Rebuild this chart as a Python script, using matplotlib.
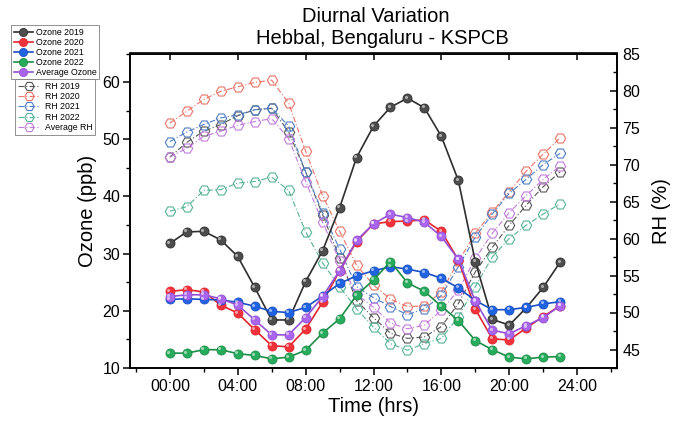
import matplotlib
matplotlib.use("Agg")
import matplotlib.pyplot as plt
import matplotlib.transforms as mtransforms
from matplotlib.ticker import MultipleLocator, FixedLocator
import numpy as np

plt.rcParams['font.family'] = ['Liberation Sans', 'DejaVu Sans']

hours = list(range(24))
xtick_pos = [0, 4, 8, 12, 16, 20, 24]
xtick_labels = ["00:00", "04:00", "08:00", "12:00", "16:00", "20:00", "24:00"]

ozone_2019 = [31.8, 33.8, 33.9, 32.4, 29.5, 24.1, 18.4, 18.4, 25.1, 30.5, 38.0, 46.8,
              52.3, 55.6, 57.2, 55.5, 50.5, 42.8, 28.6, 18.5, 17.5, 20.5, 24.1, 28.5]
ozone_2020 = [23.4, 23.7, 23.3, 21.0, 19.6, 16.7, 13.9, 13.7, 16.8, 21.5, 27.0, 32.1,
              35.2, 35.6, 35.7, 35.9, 33.9, 28.9, 20.3, 15.1, 14.9, 17.0, 19.0, 20.9]
ozone_2021 = [22.0, 22.1, 22.0, 21.9, 21.5, 20.8, 19.9, 19.7, 20.6, 22.6, 24.8, 26.1,
              27.0, 27.7, 27.3, 26.7, 25.7, 24.0, 21.8, 20.2, 20.2, 20.6, 21.2, 21.6]
ozone_2022 = [12.6, 12.6, 13.2, 13.2, 12.5, 12.2, 11.6, 11.9, 13.1, 16.1, 18.6, 22.7,
              25.4, 28.6, 24.9, 23.4, 20.8, 18.3, 14.8, 13.2, 11.9, 11.6, 11.9, 12.0]
ozone_avg = [22.5, 22.8, 22.8, 22.1, 21.0, 18.4, 15.8, 15.8, 18.8, 22.5, 27.0, 32.3,
             35.2, 36.9, 36.3, 35.5, 33.0, 29.0, 21.7, 16.6, 16.0, 17.4, 18.8, 20.9]

rh_2019 = [71.0, 73.0, 74.5, 75.4, 76.6, 77.4, 77.6, 74.4, 69.0, 63.2, 57.4, 51.6,
           49.3, 47.2, 46.5, 46.7, 48.1, 51.2, 55.5, 58.8, 61.8, 64.5, 67.0, 69.0]
rh_2020 = [75.6, 77.2, 78.8, 79.9, 80.5, 81.1, 81.4, 78.3, 71.8, 65.8, 61.0, 56.4,
           53.7, 51.8, 50.8, 50.9, 52.8, 56.9, 60.7, 63.6, 66.3, 69.1, 71.4, 73.6]
rh_2021 = [73.1, 74.4, 75.4, 76.3, 76.7, 77.4, 77.6, 75.2, 69.0, 63.5, 58.6, 53.5,
           52.0, 50.8, 49.7, 50.5, 52.3, 56.2, 60.2, 63.3, 66.1, 68.0, 70.0, 71.5]
rh_2022 = [63.7, 64.3, 66.5, 66.6, 67.5, 67.7, 68.3, 66.5, 60.9, 56.7, 53.5, 50.5,
           48.0, 45.8, 44.9, 45.8, 46.5, 49.4, 53.5, 57.5, 60.0, 61.8, 63.3, 64.7]
rh_avg = [71.0, 72.2, 73.8, 74.5, 75.3, 75.8, 76.2, 73.5, 67.7, 62.2, 57.0, 52.5,
          50.7, 48.6, 47.8, 48.3, 50.3, 53.0, 57.3, 60.7, 63.5, 65.8, 68.0, 69.8]

ozone_series = [
    ("Ozone 2019", ozone_2019, "#2e2e2e", "#4d4d4d"),
    ("Ozone 2020", ozone_2020, "#e3262e", "#f0333b"),
    ("Ozone 2021", ozone_2021, "#1a4fc4", "#1f63e0"),
    ("Ozone 2022", ozone_2022, "#1c8e48", "#27ab5c"),
    ("Average Ozone", ozone_avg, "#9550d6", "#a966ec"),
]
rh_series = [
    ("RH 2019", rh_2019, "#555555"),
    ("RH 2020", rh_2020, "#ea7468"),
    ("RH 2021", rh_2021, "#4e7ec4"),
    ("RH 2022", rh_2022, "#56b396"),
    ("Average RH", rh_avg, "#c27cdc"),
]

fig = plt.figure(figsize=(6.86, 4.25), dpi=100)
ax = fig.add_axes([130/686, 1-368/425, (617-130)/686, (368-53.5)/425])
ax2 = ax.twinx()
ax.set_zorder(ax2.get_zorder() + 1)
ax.patch.set_visible(False)

rh_handles = []
for label, vals, col in rh_series:
    h, = ax2.plot(hours, vals, linestyle=(0, (5, 2, 1, 2)), color=col, lw=0.8,
                  marker='H', ms=7.5, mfc='none', mec=col, mew=0.8, label=label)
    rh_handles.append(h)

hl_off = mtransforms.ScaledTranslation(-1.1/72, 1.1/72, fig.dpi_scale_trans)
oz_handles = []
for label, vals, lcol, fcol in ozone_series:
    h, = ax.plot(hours, vals, '-', color=lcol, lw=1.2, marker='o', ms=6.5,
                 mfc=fcol, mec=lcol, mew=0.6, label=label, zorder=3)
    ax.plot(hours, vals, linestyle='none', marker='o', ms=2.2, mfc='white',
            mec='none', alpha=0.55, zorder=4, transform=ax.transData + hl_off)
    oz_handles.append(h)

ax.set_xlim(-2.35, 26.35)
ax.set_ylim(10, 65)
ax2.set_ylim(42.5, 85)

ax.xaxis.set_major_locator(FixedLocator(xtick_pos))
ax.set_xticklabels(xtick_labels)
ax.xaxis.set_minor_locator(MultipleLocator(2))
ax.yaxis.set_major_locator(FixedLocator([10, 20, 30, 40, 50, 60]))
ax.yaxis.set_minor_locator(MultipleLocator(5))
ax2.yaxis.set_major_locator(FixedLocator([45, 50, 55, 60, 65, 70, 75, 80, 85]))
ax2.yaxis.set_minor_locator(MultipleLocator(2.5))

ax.tick_params(axis='x', which='major', direction='out', length=5, width=1.1,
               labelsize=11.5, pad=3, top=False)
ax.tick_params(axis='x', which='minor', direction='out', length=3, width=1.0, top=False)
ax.tick_params(axis='y', which='major', direction='out', length=5, width=1.1,
               labelsize=11.5, pad=2)
ax.tick_params(axis='y', which='minor', direction='out', length=3, width=1.0)
ax2.tick_params(axis='y', which='major', direction='in', length=5, width=1.1,
                labelsize=11.5, pad=4)
ax2.tick_params(axis='y', which='minor', direction='in', length=3, width=1.0)

# top ticks pointing inward
secx = ax.secondary_xaxis('top')
secx.xaxis.set_major_locator(FixedLocator(xtick_pos))
secx.set_xticklabels([])
secx.tick_params(axis='x', which='major', direction='in', length=5, width=1.1)
secx.xaxis.set_minor_locator(FixedLocator([]))

for a in (ax, ax2):
    for s in a.spines.values():
        s.set_linewidth(1.2)
secx.spines['top'].set_linewidth(1.2)

ax.set_xlabel("Time (hrs)", fontsize=14.5, labelpad=2)
ax.set_ylabel("Ozone (ppb)", fontsize=14.5, labelpad=4)
ax2.set_ylabel("RH (%)", fontsize=14.5, labelpad=8)

fig.text(376/686, 1-17/425, "Diurnal Variation", ha='center', va='center', fontsize=14.5)
fig.text(382/686, 1-38/425, "Hebbal, Bengaluru - KSPCB", ha='center', va='center', fontsize=14.5)

leg1 = fig.legend(handles=oz_handles, loc='upper left', bbox_to_anchor=(11/686, 1-25/425),
                  bbox_transform=fig.transFigure, fontsize=6.3, frameon=True, fancybox=False,
                  edgecolor='#808080', framealpha=1, borderpad=0.3, labelspacing=0.12,
                  handlelength=2.2, handletextpad=0.3, borderaxespad=0, markerscale=0.9)
leg1.get_frame().set_linewidth(0.6)
leg2 = fig.legend(handles=rh_handles, loc='upper left', bbox_to_anchor=(15/686, 1-79/425),
                  bbox_transform=fig.transFigure, fontsize=6.3, frameon=True, fancybox=False,
                  edgecolor='#808080', framealpha=1, borderpad=0.3, labelspacing=0.15,
                  handlelength=2.6, handletextpad=0.5, borderaxespad=0, markerscale=0.9)
leg2.get_frame().set_linewidth(0.6)

fig.savefig("out.png", dpi=100)
